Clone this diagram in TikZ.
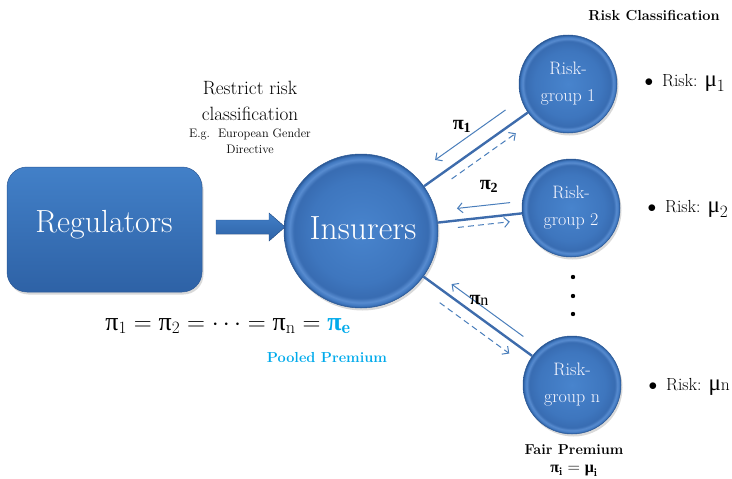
\documentclass[tikz,border=0pt]{standalone}
\usepackage{fontspec}
\usetikzlibrary{calc,arrows.meta,shadows}
\newfontfamily\gr{Liberation Serif}
\definecolor{lineblue}{RGB}{74,126,187}
\definecolor{thickblue}{RGB}{62,108,172}
\definecolor{cyanb}{RGB}{0,170,235}
\definecolor{ballc}{RGB}{72,132,205}
\definecolor{ballm}{RGB}{62,118,190}
\definecolor{balld}{RGB}{56,108,178}
\definecolor{balll}{RGB}{88,140,208}
\definecolor{balle}{RGB}{42,88,150}
\definecolor{boxtop}{RGB}{66,128,200}
\definecolor{boxbot}{RGB}{46,98,166}
\pgfdeclareradialshading{bevelball}{\pgfpoint{0bp}{0bp}}{color(0bp)=(ballc); color(17bp)=(ballm); color(21.8bp)=(balld); color(23.2bp)=(balll); color(24.3bp)=(ballm); color(25bp)=(balle); color(50bp)=(balle)}
\tikzset{
  ball/.style={circle, inner sep=0pt, shading=bevelball, draw=balle, line width=0.5pt,
    drop shadow={opacity=0.3, shadow xshift=1.5pt, shadow yshift=-2.5pt}},
  groupball/.style={ball, minimum size=98pt, text=white!97!blue, align=center,
    font=\fontsize{18}{27}\selectfont},
  thickline/.style={draw=thickblue, line width=2.4pt},
  thinarr/.style={draw=lineblue, line width=1pt, -{Straight Barb[length=5pt,width=10pt]}},
  dasharr/.style={thinarr, dash pattern=on 6pt off 4pt},
  bullettext/.style={anchor=base west, font=\fontsize{17.5}{17.5}\selectfont},
  pilabel/.style={font=\gr\bfseries\fontsize{20}{20}\selectfont}
}
\newcommand\gp{\hbox{\gr π}}
\newcommand\gm{\hbox{\gr μ}}
\begin{document}
\begin{tikzpicture}[x=1pt,y=-1pt]
\useasboundingbox (0,0) rectangle (732,479);

% Regulators box
\node[rectangle, rounded corners=20pt, minimum width=195pt, minimum height=125pt,
  top color=boxtop, bottom color=boxbot, draw=balle, line width=0.5pt,
  drop shadow={opacity=0.3, shadow xshift=1.5pt, shadow yshift=-2.5pt}] (reg) at (104.5,229.5) {};
\node[anchor=base, text=white, font=\fontsize{32}{32}\selectfont] (regtxt) at (104,232) {Regulators};

% Block arrow
\filldraw[top color=boxtop, bottom color=boxbot, draw=balle, line width=0.4pt]
  (216,220) -- (269,220) -- (269,213) -- (285,227) -- (269,241) -- (269,234) -- (216,234) -- cycle;

% Insurers
\node[ball, minimum size=154pt] (ins) at (361,231) {};
\node[anchor=base, text=white, font=\fontsize{33.5}{33.5}\selectfont] (instxt) at (363,239) {Insurers};

% Risk groups
\node[groupball] (g1) at (568,84) {Risk-\\group 1};
\node[groupball] (g2) at (571,208) {Risk-\\group 2};
\node[groupball] (gn) at (572,385) {Risk-\\group n};

% connectors
\draw[thickline] (ins) -- (g1);
\draw[thickline] (ins) -- (g2);
\draw[thickline] (ins) -- (gn);

\draw[thinarr] ($(ins.center)!0.74!(g1.center)!15pt!90:(g1.center)$) -- ($(ins.center)!0.40!(g1.center)!15pt!90:(g1.center)$);
\draw[dasharr] ($(ins.center)!0.41!(g1.center)!10pt!-90:(g1.center)$) -- ($(ins.center)!0.72!(g1.center)!10pt!-90:(g1.center)$);

\draw[thinarr] ($(ins.center)!0.716!(g2.center)!12pt!90:(g2.center)$) -- ($(ins.center)!0.463!(g2.center)!12pt!90:(g2.center)$);
\draw[dasharr] ($(ins.center)!0.458!(g2.center)!7pt!-90:(g2.center)$) -- ($(ins.center)!0.705!(g2.center)!7pt!-90:(g2.center)$);

\draw[thinarr] ($(ins.center)!0.74!(gn.center)!10.5pt!90:(gn.center)$) -- ($(ins.center)!0.40!(gn.center)!10.5pt!90:(gn.center)$);
\draw[dasharr] ($(ins.center)!0.405!(gn.center)!11.5pt!-90:(gn.center)$) -- ($(ins.center)!0.735!(gn.center)!11.5pt!-90:(gn.center)$);

% pi labels
\node[pilabel] (p1) at (462,126) {π\textsubscript{1}};
\node[pilabel] (p2) at (489,186) {π\textsubscript{2}};
\node[pilabel] (pn) at (479,300) {π\raisebox{-1pt}{\mdseries\fontsize{16}{16}\selectfont n}};

% vertical dots
\fill (573,277) circle (2.2) (573,296) circle (2.2) (573,314) circle (2.2);

% texts
\node[font=\bfseries\fontsize{14.5}{15}\selectfont] (rc) at (654,16) {Risk Classification};
\node[bullettext] (b1) at (641,86) {$\bullet$\hspace{9pt}Risk: {\fontsize{23}{23}\selectfont$\gm_1$}};
\node[bullettext] (b2) at (644,212) {$\bullet$\hspace{9pt}Risk: {\fontsize{23}{23}\selectfont$\gm_2$}};
\node[bullettext] (bn) at (645,390) {$\bullet$\hspace{9pt}Risk: {\fontsize{23}{23}\selectfont\gm\fontsize{17.5}{17.5}\selectfont n}};

\node[align=center, font=\fontsize{19.2}{26}\selectfont] (restrict) at (250,101) {Restrict risk\\classification};
\node[align=center, font=\fontsize{12.3}{16}\selectfont] (eg) at (250,141) {E.g.\ \ European Gender\\Directive};

\node[font=\fontsize{26}{26}\selectfont] (eq) at (228,326) {$\gp_1=\gp_2=\cdots=\gp_{\mathrm{n}}={\color{cyanb}\hbox{\gr\bfseries π}_{\mathbf{e}}}$};
\node[text=cyanb, font=\bfseries\fontsize{14.5}{14.5}\selectfont] (pooled) at (327,358) {Pooled Premium};

\node[font=\bfseries\fontsize{14.4}{14.4}\selectfont] (fair) at (574,450) {Fair Premium};
\node[font=\fontsize{16}{16}\selectfont] (fairp) at (574,471) {$\hbox{\gr\bfseries π}_{\mathbf{i}}=\hbox{\gr\bfseries μ}_{\mathbf{i}}$};
\end{tikzpicture}
\end{document}
